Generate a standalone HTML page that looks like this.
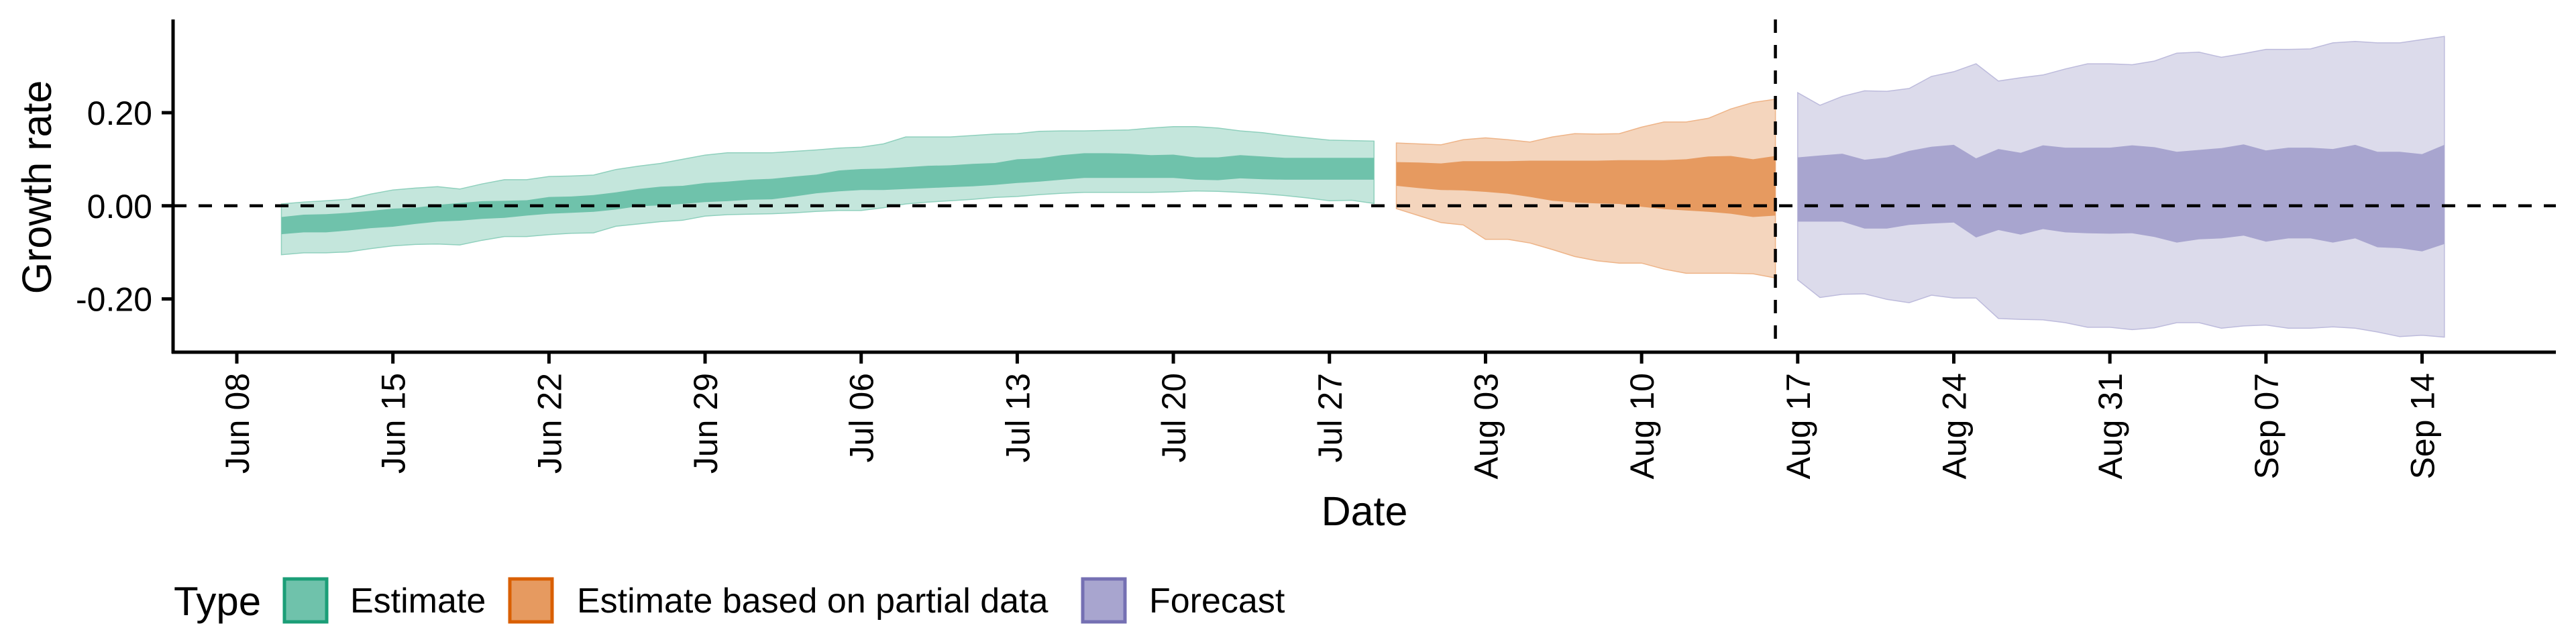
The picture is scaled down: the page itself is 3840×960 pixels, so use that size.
<!DOCTYPE html>
<html><head><meta charset="utf-8">
<style>
html,body{margin:0;padding:0;background:#fff;}
svg{display:block;font-family:"Liberation Sans",sans-serif;}
</style></head>
<body>
<svg id="chart" width="3840" height="960" viewBox="0 0 3840 960" xmlns="http://www.w3.org/2000/svg">
  <g id="bands"></g>
  <g id="axes"></g>
  <text x="0" y="0" font-size="61" text-anchor="middle" transform="translate(76,279) rotate(-90)">Growth rate</text>
  <text x="2034" y="783" font-size="61" text-anchor="middle">Date</text>
  <g>
    <text x="259" y="917" font-size="60">Type</text>
    <rect x="424" y="863" width="63" height="64" fill="#6fc2ab" stroke="#1b9e77" stroke-width="5"/>
    <text x="522" y="913" font-size="52">Estimate</text>
    <rect x="760" y="863" width="63" height="64" fill="#e69a60" stroke="#d95f02" stroke-width="5"/>
    <text x="860" y="913" font-size="52">Estimate based on partial data</text>
    <rect x="1614" y="863" width="63" height="64" fill="#a8a5cf" stroke="#7570b3" stroke-width="5"/>
    <text x="1713" y="913" font-size="52">Forecast</text>
  </g>
</svg>
<script>
// Day offsets from Jun 08
const tickLabels = ["Jun 08","Jun 15","Jun 22","Jun 29","Jul 06","Jul 13","Jul 20","Jul 27","Aug 03","Aug 10","Aug 17","Aug 24","Aug 31","Sep 07","Sep 14"];
const tickDays = [0,7,14,21,28,35,42,49,56,63,70,77,84,91,98];
const yTicks = [-0.2, 0, 0.2];
const yTickLabels = ["-0.20","0.00","0.20"];
const forecastLineDay = 69;

const estStart = 2;
const estOuterUpper = [.004,.008,.011,.014,.025,.034,.038,.041,.036,.047,.056,.056,.063,.064,.066,.078,.085,.091,.100,.109,.114,.114,.114,.117,.120,.124,.126,.133,.148,.148,.148,.151,.154,.155,.160,.161,.161,.162,.163,.167,.170,.170,.167,.161,.157,.151,.146,.141,.140,.139];
const estOuterLower = [-.105,-.101,-.101,-.099,-.092,-.086,-.083,-.082,-.084,-.074,-.066,-.066,-.062,-.059,-.058,-.044,-.039,-.034,-.031,-.022,-.019,-.018,-.017,-.015,-.012,-.010,-.010,-.004,.004,.008,.011,.014,.018,.020,.024,.027,.029,.029,.029,.029,.030,.032,.031,.029,.026,.022,.017,.011,.012,.005];
const estInnerUpper = [-.024,-.019,-.018,-.015,-.011,-.006,-.004,.002,.006,.010,.011,.012,.019,.020,.023,.029,.036,.041,.043,.049,.052,.056,.058,.063,.067,.076,.079,.080,.083,.086,.087,.090,.092,.100,.102,.109,.113,.113,.112,.109,.110,.104,.104,.109,.106,.103,.103,.103,.103,.103];
const estInnerLower = [-.061,-.057,-.057,-.053,-.048,-.045,-.039,-.034,-.032,-.028,-.026,-.021,-.017,-.015,-.013,-.008,-.001,.001,.004,.008,.010,.013,.014,.020,.027,.031,.034,.034,.036,.038,.040,.042,.045,.049,.052,.056,.060,.060,.060,.060,.060,.056,.055,.059,.057,.056,.056,.056,.056,.056];

const partStart = 52;
const partOuterUpper = [.135,.133,.131,.142,.146,.142,.137,.148,.155,.154,.155,.169,.180,.180,.188,.208,.222,.229];
const partOuterLower = [-.006,-.021,-.036,-.041,-.072,-.072,-.080,-.094,-.109,-.118,-.123,-.123,-.136,-.145,-.145,-.145,-.146,-.155];
const partInnerUpper = [.094,.093,.091,.096,.096,.096,.097,.097,.097,.097,.098,.098,.098,.100,.106,.107,.100,.107];
const partInnerLower = [.043,.038,.034,.033,.030,.026,.019,.011,.007,.005,.004,-.002,-.007,-.010,-.013,-.017,-.024,-.021];

const fcStart = 70;
const fcOuterUpper = [.243,.216,.235,.247,.246,.252,.278,.288,.305,.268,.275,.281,.294,.305,.305,.303,.311,.328,.330,.319,.327,.336,.336,.337,.350,.353,.350,.350,.357,.364];
const fcOuterLower = [-.159,-.197,-.190,-.189,-.201,-.208,-.192,-.198,-.198,-.242,-.244,-.245,-.251,-.261,-.261,-.266,-.262,-.251,-.251,-.263,-.258,-.256,-.263,-.263,-.260,-.263,-.271,-.281,-.278,-.282];
const fcInnerUpper = [.104,.108,.112,.099,.104,.118,.127,.131,.102,.122,.114,.130,.125,.125,.125,.130,.126,.116,.120,.124,.132,.119,.125,.125,.122,.131,.116,.116,.111,.131];
const fcInnerLower = [-.034,-.034,-.034,-.049,-.049,-.041,-.038,-.036,-.068,-.052,-.062,-.050,-.057,-.059,-.060,-.059,-.067,-.079,-.072,-.070,-.064,-.077,-.070,-.070,-.079,-.070,-.089,-.091,-.098,-.082];

const NS = "http://www.w3.org/2000/svg";
const plotL = 258, plotR = 3810, plotT = 29, plotB = 525;
const x = d => 353 + d * 33.24;
const y = v => 306.8 - v * 694;

function mk(tag, attrs, parent){
  const el = document.createElementNS(NS, tag);
  for (const k in attrs) el.setAttribute(k, attrs[k]);
  parent.appendChild(el);
  return el;
}
function ribbon(start, up, lo){
  let d = "";
  up.forEach((v,i)=>{ d += (i?"L":"M") + x(start+i).toFixed(1) + "," + y(v).toFixed(1); });
  for (let i = lo.length-1; i>=0; i--) d += "L" + x(start+i).toFixed(1) + "," + y(lo[i]).toFixed(1);
  return d + "Z";
}
const bands = document.getElementById("bands");
const series = [
  {key:"estimate", start:estStart, ou:estOuterUpper, ol:estOuterLower, iu:estInnerUpper, il:estInnerLower, light:"#c4e6dc", dark:"#6fc2ab", edge:"#8fd0bd"},
  {key:"partial", start:partStart, ou:partOuterUpper, ol:partOuterLower, iu:partInnerUpper, il:partInnerLower, light:"#f4d5bd", dark:"#e69a60", edge:"#eeb488"},
  {key:"forecast", start:fcStart, ou:fcOuterUpper, ol:fcOuterLower, iu:fcInnerUpper, il:fcInnerLower, light:"#dcdbeb", dark:"#a8a5cf", edge:"#bdbbdc"}
];
series.forEach(s=>{
  const outer = mk("path", {d: ribbon(s.start, s.ou, s.ol), fill: s.light, stroke: s.edge, "stroke-width": 1.5}, bands);
  
  
  const inner = mk("path", {d: ribbon(s.start, s.iu, s.il), fill: s.dark}, bands);
  
  
});

const axes = document.getElementById("axes");
const hz = mk("line", {x1: plotL, x2: plotR, y1: y(0), y2: y(0), stroke:"#000", "stroke-width":4.5, "stroke-dasharray":"20 18"}, axes);


const vt = mk("line", {x1: x(forecastLineDay), x2: x(forecastLineDay), y1: plotT, y2: plotB, stroke:"#000", "stroke-width":4.5, "stroke-dasharray":"20 18"}, axes);



const ya = mk("line", {x1: plotL, x2: plotL, y1: plotT, y2: plotB+2, stroke:"#000", "stroke-width":5}, axes);


const xa = mk("line", {x1: plotL-2, x2: plotR, y1: plotB, y2: plotB, stroke:"#000", "stroke-width":5}, axes);



yTicks.forEach((v,i)=>{
  const t = mk("line", {x1: plotL-17, x2: plotL, y1: y(v), y2: y(v), stroke:"#000", "stroke-width":5}, axes);
  
  
  const lb = mk("text", {x: plotL-31, y: y(v)+18, "font-size":50, "text-anchor":"end"}, axes);
  lb.textContent = yTickLabels[i];
  
  
});
tickDays.forEach((d,i)=>{
  const t = mk("line", {x1: x(d), x2: x(d), y1: plotB, y2: plotB+17, stroke:"#000", "stroke-width":5}, axes);
  
  
  const lb = mk("text", {x:0, y:0, "font-size":50, "text-anchor":"end", transform:"translate(" + (x(d)+18) + "," + 556 + ") rotate(-90)"}, axes);
  lb.textContent = tickLabels[i];
  
  
});
</script>
</body></html>
